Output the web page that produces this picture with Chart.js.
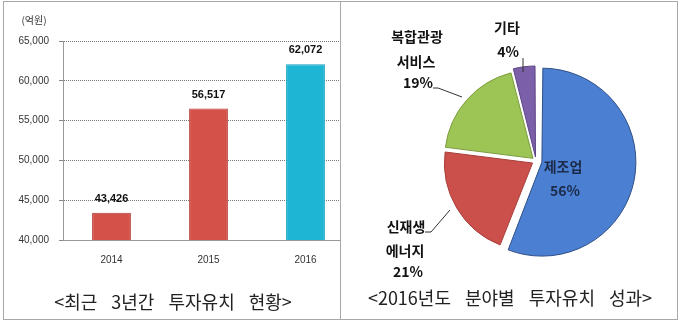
<!DOCTYPE html>
<html>
<head>
<meta charset="utf-8">
<script src="https://cdn.jsdelivr.net/npm/chart.js@4"></script>
<style>
  body { margin: 0; background: #fff; width: 680px; height: 323px; overflow: hidden; position: relative; }
  .frame { position: absolute; left: 3px; top: 1px; width: 673px; height: 317px; border: 1px solid #a8a8a8; }
  .divider { position: absolute; left: 340px; top: 1px; width: 1px; height: 318px; background: #a8a8a8; }
  .panel { position: absolute; top: 1px; height: 318px; overflow: hidden; }
  .title { position: absolute; font-family: "Noto Sans CJK KR", sans-serif; font-size: 18px; color: #222;
           white-space: nowrap; transform: translate(-50%, -50%); word-spacing: 10px; }
</style>
</head>
<body>
<div class="frame"></div>
<div class="divider"></div>

<div class="panel" style="left:4px;width:336px;">
  <canvas id="investTrend" width="350" height="318"></canvas>
</div>
<div class="panel" style="left:341px;width:336px;">
  <canvas id="investField" width="336" height="318"></canvas>
</div>

<div class="title" style="left:173px;top:301px;">&lt;최근 3년간 투자유치 현황&gt;</div>
<div class="title" style="left:510px;top:297px;">&lt;2016년도 분야별 투자유치 성과&gt;</div>

<script>
/* Investment charts with Chart.js */

// data
const years = ['2014', '2015', '2016'];
const investAmounts = [43426, 56517, 62072];
const yTicks = [40000, 45000, 50000, 55000, 60000, 65000];

const fields = ['제조업', '신재생 에너지', '복합관광 서비스', '기타'];
const fieldShares = [56, 21, 19, 4];

const fmt = v => v.toLocaleString('en-US');

// Last 3 years bar chart
const trendCanvas = document.getElementById('investTrend');

const barLabels = {
  id: 'barLabels',
  afterDatasetsDraw(chart) {
    const ctx = chart.ctx;
    ctx.save();
    ctx.font = 'bold 11px "Liberation Sans", sans-serif';
    ctx.fillStyle = '#111';
    ctx.textAlign = 'center';
    ctx.textBaseline = 'middle';
    chart.getDatasetMeta(0).data.forEach((bar, i) => {
      ctx.fillText(fmt(investAmounts[i]), bar.x, bar.y - 14);
    });
    // unit
    ctx.font = '10px "Noto Sans CJK KR", sans-serif';
    ctx.fillStyle = '#333';
    ctx.fillText('(억원)', 30, 19);
    ctx.restore();
  }
};

const trendConfig = {
  type: 'bar',
  data: {
    labels: years,
    datasets: [{
      data: investAmounts,
      backgroundColor: ['#d4514a', '#d4514a', '#1db5d3'],
      borderColor: ['#b73c35', '#b73c35', '#139fbd'],
      borderWidth: 1,
      barPercentage: 0.4,
      categoryPercentage: 1
    }]
  },
  options: {
    responsive: false,
    animation: false,
    layout: { padding: { top: 40, bottom: 49, right: 0, left: 0 } },
    plugins: { legend: { display: false }, tooltip: { enabled: false } },
    scales: {
      x: {
        grid: { display: false, drawTicks: false },
        border: { display: true, color: '#999' },
        ticks: { padding: 14, color: '#333', font: { size: 10, family: '"Liberation Sans", sans-serif' } },
        afterFit(scale) { scale.height = 30; }
      },
      y: {
        min: 40000,
        max: 65000,
        afterBuildTicks(scale) { scale.ticks = yTicks.map(v => ({ value: v })); },
        grid: { color: '#777', tickLength: 4, tickColor: '#888' },
        border: { display: true, color: '#999', dash: [1, 1] },
        ticks: {
          padding: 10,
          color: '#333',
          font: { size: 10, family: '"Liberation Sans", sans-serif' },
          callback: v => fmt(v)
        },
        afterFit(scale) { scale.width = 59; }
      }
    }
  },
  plugins: [barLabels]
};

new Chart(trendCanvas, trendConfig);

// 2016 field pie chart
const fieldCanvas = document.getElementById('investField');

// label text with offsets from the pie centre
const pieTexts = [
  { lines: [['제조업', 27, 6], ['56%', 29, 30]], color: '#1c2b4a' },
  { lines: [['신재생', -130, 66], ['에너지', -131, 90], ['21%', -128, 111]], color: '#111',
    leader: [[-111, 71], [-105, 71], [-86, 49]] },
  { lines: [['복합관광', -119, -124], ['서비스', -120, -99], ['19%', -118, -78]], color: '#111',
    leader: [[-103, -73], [-98, -73], [-74, -64]] },
  { lines: [['기타', -29, -133], ['4%', -28, -109]], color: '#111',
    leader: [[-13, -103], [-13, -89]] }
];

const pieLabels = {
  id: 'pieLabels',
  afterDatasetsDraw(chart) {
    const ctx = chart.ctx;
    const arc = chart.getDatasetMeta(0).data[0];
    const cx = arc.x, cy = arc.y;
    ctx.save();
    ctx.textAlign = 'center';
    ctx.textBaseline = 'middle';
    ctx.font = 'bold 14px "Noto Sans CJK KR", sans-serif';
    pieTexts.forEach(t => {
      ctx.fillStyle = t.color;
      t.lines.forEach(l => ctx.fillText(l[0], cx + l[1], cy + l[2]));
      if (t.leader) {
        ctx.strokeStyle = '#333';
        ctx.lineWidth = 1;
        ctx.beginPath();
        t.leader.forEach((p, i) => {
          if (i === 0) ctx.moveTo(cx + p[0], cy + p[1]);
          else ctx.lineTo(cx + p[0], cy + p[1]);
        });
        ctx.stroke();
      }
    });
    ctx.restore();
  }
};

const fieldConfig = {
  type: 'pie',
  data: {
    labels: fields,
    datasets: [{
      data: fieldShares,
      backgroundColor: ['#4a7fd2', '#cb504b', '#9cc556', '#7b5fa8'],
      borderColor: ['#2f4f86', '#a8403b', '#7c9c3e', '#5e4585'],
      borderWidth: 1,
      offset: [24, 16, 16, 16],
      radius: 88
    }]
  },
  options: {
    responsive: false,
    animation: false,
    layout: { padding: { left: 54, right: 0, top: 2, bottom: 0 } },
    plugins: { legend: { display: false }, tooltip: { enabled: false } }
  },
  plugins: [pieLabels]
};

new Chart(fieldCanvas, fieldConfig);
</script>
</body>
</html>
